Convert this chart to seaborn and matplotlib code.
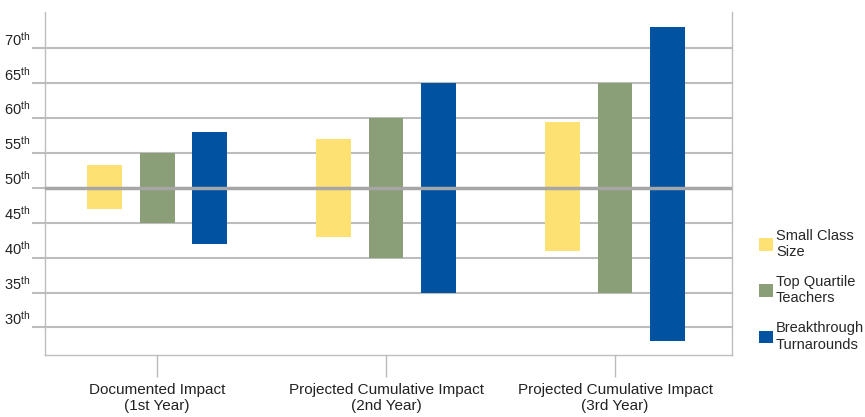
import pandas as pd
import seaborn as sns
import matplotlib.pyplot as plt
from matplotlib.patches import Patch

categories = ['Documented Impact\n(1st Year)',
              'Projected Cumulative Impact\n(2nd Year)',
              'Projected Cumulative Impact\n(3rd Year)']
series = ['Small Class\nSize', 'Top Quartile\nTeachers', 'Breakthrough\nTurnarounds']
colors = ['#FEE173', '#8A9E78', '#0152A1']

# percentile ranges (low, high) per series, one value per category
small_low = [47, 43, 41]
small_high = [53.3, 57, 59.4]
top_low = [45, 40, 35]
top_high = [55, 60, 65]
break_low = [42, 35, 28]
break_high = [58, 65, 73]

y_ticks = [30, 35, 40, 45, 50, 55, 60, 65, 70]

lows = [small_low, top_low, break_low]
highs = [small_high, top_high, break_high]

rows = []
for s, lo, hi in zip(series, lows, highs):
    for c, l, h in zip(categories, lo, hi):
        rows.append({'category': c, 'series': s, 'low': l, 'span': h - l})
df = pd.DataFrame(rows)

sns.set_style('white')
plt.rcParams['font.family'] = ['Liberation Sans', 'DejaVu Sans']

fig = plt.figure(figsize=(8.65, 4.17), dpi=100)
ax = fig.add_axes([0.052, 0.149, 0.794, 0.822])

sns.barplot(data=df, x='category', y='span', hue='series', order=categories,
            hue_order=series, palette=colors, width=0.69, gap=0.34,
            saturation=1, ax=ax, legend=False, zorder=3)

# float the bars: move each bar's base to its low value
for container, lo in zip(ax.containers, lows):
    for bar, l in zip(container, lo):
        bar.set_y(l)
        bar.set_edgecolor('none')

ax.set_ylim(26.07, 75.2)
ax.set_xlim(-0.49, 2.51)
ax.set_yticks(y_ticks)
ax.set_yticklabels([f'$\\mathregular{{{v}^{{th}}}}$' for v in y_ticks],
                   fontsize=10.5, color='#222222')
for lab in ax.get_yticklabels():
    lab.set_va('bottom')
ax.set_xlabel('')
ax.set_ylabel('')
ax.tick_params(axis='x', labelsize=11, labelcolor='#222222', length=16, width=1,
               color='#bbbbbb', pad=4, bottom=True)
ax.tick_params(axis='y', length=9.5, width=1.5, color='#bdbdbd', pad=1, left=True)

ax.grid(axis='y', color='#bdbdbd', linewidth=1.5, zorder=0)
ax.set_axisbelow(True)
ax.axhline(50, color='#a6a6a6', linewidth=2.5, zorder=5)

for side in ['left', 'bottom', 'right']:
    ax.spines[side].set_color('#bdbdbd')
    ax.spines[side].set_linewidth(1)
ax.spines['top'].set_visible(False)

handles = [Patch(facecolor=c, edgecolor='none') for c in colors]
fig.legend(handles, series, loc='upper left', bbox_to_anchor=(0.871, 0.465),
           frameon=False, fontsize=10.5, handlelength=0.95, handleheight=0.95,
           handletextpad=0.2, labelspacing=1.1, borderaxespad=0)

fig.savefig('out.png', dpi=100)
